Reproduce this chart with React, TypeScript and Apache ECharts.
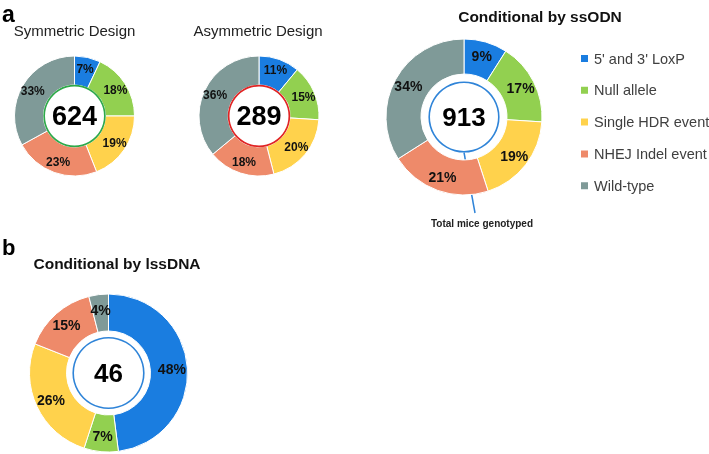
import React, { useEffect, useRef } from "react";
import * as echarts from "echarts";

const categories = ["5' and 3' LoxP", "Null allele", "Single HDR event", "NHEJ Indel event", "Wild-type"];
const colors = ["#1a7de0", "#92d050", "#ffd24c", "#ee8a6a", "#7f9a98"];
const symmetricValues = [7, 18, 19, 23, 33];
const asymmetricValues = [11, 15, 20, 18, 36];
const ssodnValues = [9, 17, 19, 21, 34];
const lssdnaValues = [48, 7, 26, 15, 4];
const totals = [624, 289, 913, 46];
const chartTitles = ["Symmetric Design", "Asymmetric Design", "Conditional by ssODN", "Conditional by lssDNA"];

const FONT = "'Liberation Sans', Arial, sans-serif";

export default function App() {
  const ref = useRef<HTMLDivElement>(null);
  useEffect(() => {
    if (!ref.current) return;
    const chart = echarts.init(ref.current, null, { renderer: "svg" });

    const pies = [
      { values: symmetricValues, center: [74.5, 116], radius: [31, 60], ring: [29.5, 31.2], ringColor: "#2ea84a", fs: 12, numFs: 27 },
      { values: asymmetricValues, center: [259, 116], radius: [31, 60], ring: [29.5, 31.2], ringColor: "#e02424", fs: 12, numFs: 27 },
      { values: ssodnValues, center: [464, 117], radius: [43, 78], ring: [34, 35.6], ringColor: "#2f84d8", fs: 14, numFs: 26 },
      { values: lssdnaValues, center: [108.5, 373], radius: [42, 79], ring: [34.5, 36.1], ringColor: "#2f84d8", fs: 14, numFs: 26 },
    ];

    const series: any[] = [];
    pies.forEach((p, i) => {
      series.push({
        type: "pie",
        center: p.center,
        radius: p.radius,
        startAngle: 90,
        clockwise: true,
        silent: true,
        itemStyle: { borderColor: "#ffffff", borderWidth: 1 },
        label: {
          show: true,
          position: "inside",
          formatter: "{c}%",
          fontFamily: FONT,
          fontWeight: "bold",
          fontSize: p.fs,
          color: "#111111",
        },
        labelLine: { show: false },
        emphasis: { disabled: true },
        data: categories.map((c, k) => ({ name: c, value: p.values[k], itemStyle: { color: colors[k] } })),
      });
      series.push({
        type: "pie",
        center: p.center,
        radius: p.ring,
        silent: true,
        label: {
          show: true,
          position: "center",
          formatter: String(totals[i]),
          fontFamily: FONT,
          fontWeight: "bold",
          fontSize: p.numFs,
          color: "#000000",
        },
        labelLine: { show: false },
        emphasis: { disabled: true },
        data: [{ name: "total" + i, value: totals[i], itemStyle: { color: p.ringColor } }],
      });
    });

    chart.setOption({
      animation: false,
      color: colors,
      legend: {
        data: categories,
        orient: "vertical",
        left: 579,
        top: 51,
        padding: 0,
        itemWidth: 9,
        itemHeight: 9,
        itemGap: 16.8,
        icon: "rect",
        selectedMode: false,
        textStyle: { fontFamily: FONT, fontSize: 14.5, color: "#404040", lineHeight: 14 },
      },
      graphic: [
        { type: "text", x: 2, y: 2, style: { text: "a", font: `bold 23px ${FONT}`, fill: "#000" } },
        { type: "text", x: 2, y: 236, style: { text: "b", font: `bold 22px ${FONT}`, fill: "#000" } },
        { type: "text", x: 74.5, y: 30, style: { text: chartTitles[0], font: `15px ${FONT}`, fill: "#222", align: "center", verticalAlign: "middle" } },
        { type: "text", x: 258, y: 30, style: { text: chartTitles[1], font: `15px ${FONT}`, fill: "#222", align: "center", verticalAlign: "middle" } },
        { type: "text", x: 540, y: 16, style: { text: chartTitles[2], font: `bold 15.5px ${FONT}`, fill: "#111", align: "center", verticalAlign: "middle" } },
        { type: "text", x: 117, y: 263, style: { text: chartTitles[3], font: `bold 15.5px ${FONT}`, fill: "#111", align: "center", verticalAlign: "middle" } },
        { type: "line", shape: { x1: 464, y1: 152.5, x2: 475, y2: 213 }, style: { stroke: "#2f84d8", lineWidth: 1.5 } },
        { type: "text", x: 482, y: 223, style: { text: "Total mice genotyped", font: `bold 10px ${FONT}`, fill: "#222", align: "center", verticalAlign: "middle" } },
      ],
      series,
    });
    return () => chart.dispose();
  }, []);
  return <div ref={ref} style={{ position: "fixed", left: 0, top: 0, width: 709, height: 454 }} />;
}
